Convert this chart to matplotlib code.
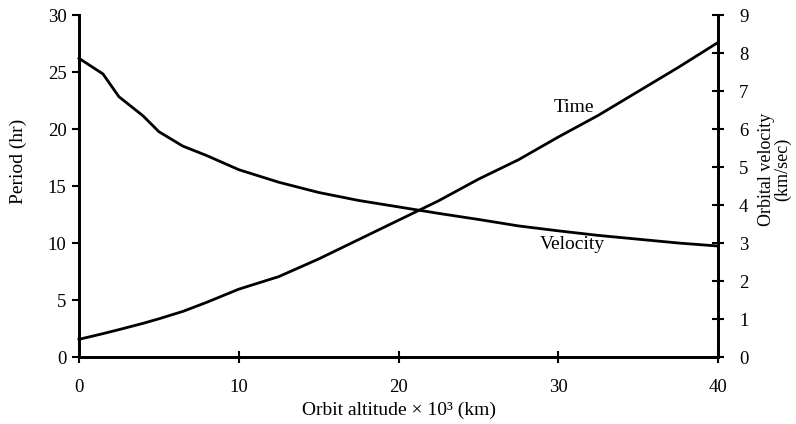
import matplotlib.pyplot as plt

plt.rcParams['font.family'] = ['Liberation Serif', 'DejaVu Serif']

# orbit altitude (x 10^3 km)
altitude = [0, 1.5, 2.5, 4, 5, 6.5, 8, 10, 12.5, 15, 17.5, 20, 22.5, 25, 27.5, 30, 32.5, 35, 37.5, 40]
# period (hr), left axis
period = [1.55, 2.05, 2.4, 2.95, 3.35, 4.0, 4.8, 5.95, 7.05, 8.6, 10.3, 12.0, 13.7, 15.6,
          17.3, 19.3, 21.2, 23.3, 25.4, 27.6]
# orbital velocity (km/sec), right axis
velocity = [7.86, 7.45, 6.85, 6.35, 5.93, 5.55, 5.3, 4.93, 4.6, 4.33, 4.12, 3.95, 3.78, 3.62,
            3.45, 3.32, 3.2, 3.1, 3.0, 2.92]

fig = plt.figure(figsize=(7.96, 4.24), dpi=100)
ax = fig.add_axes([0.0992, 0.158, 0.803, 0.8066])
ax2 = ax.twinx()

ax.plot(altitude, period, color='black', lw=2.0, clip_on=False)
ax2.plot(altitude, velocity, color='black', lw=2.0, clip_on=False)

ax.set_xlim(0, 40)
ax.set_ylim(0, 30)
ax2.set_ylim(0, 9)
ax.set_xticks(range(0, 41, 10))
ax.set_yticks(range(0, 31, 5))
ax2.set_yticks(range(0, 10))

for a in (ax, ax2):
    a.spines['top'].set_visible(False)
    for s in a.spines.values():
        s.set_linewidth(2.0)

ax.tick_params(axis='y', direction='out', length=5, width=1.5, pad=4, labelsize=13.5)
ax.tick_params(axis='x', direction='inout', length=8, width=1.5, pad=12, labelsize=13.5)
ax2.tick_params(axis='y', direction='inout', length=8, width=1.5, pad=11, labelsize=13.5)

ax.set_xlabel('Orbit altitude \u00d7 10\u00b3 (km)', fontsize=14, labelpad=4)
ax.set_ylabel('Period (hr)', fontsize=14)
ax.yaxis.set_label_coords(-0.082, 0.573)
ax2.set_ylabel('Orbital velocity\n(km/sec)', fontsize=13, linespacing=0.9)
ax2.yaxis.set_label_coords(1.062, 0.55)

ax.text(31.0, 21.9, 'Time', fontsize=14, ha='center', va='center')
ax.text(30.9, 9.9, 'Velocity', fontsize=14, ha='center', va='center')

fig.savefig('out.png', dpi=100)
